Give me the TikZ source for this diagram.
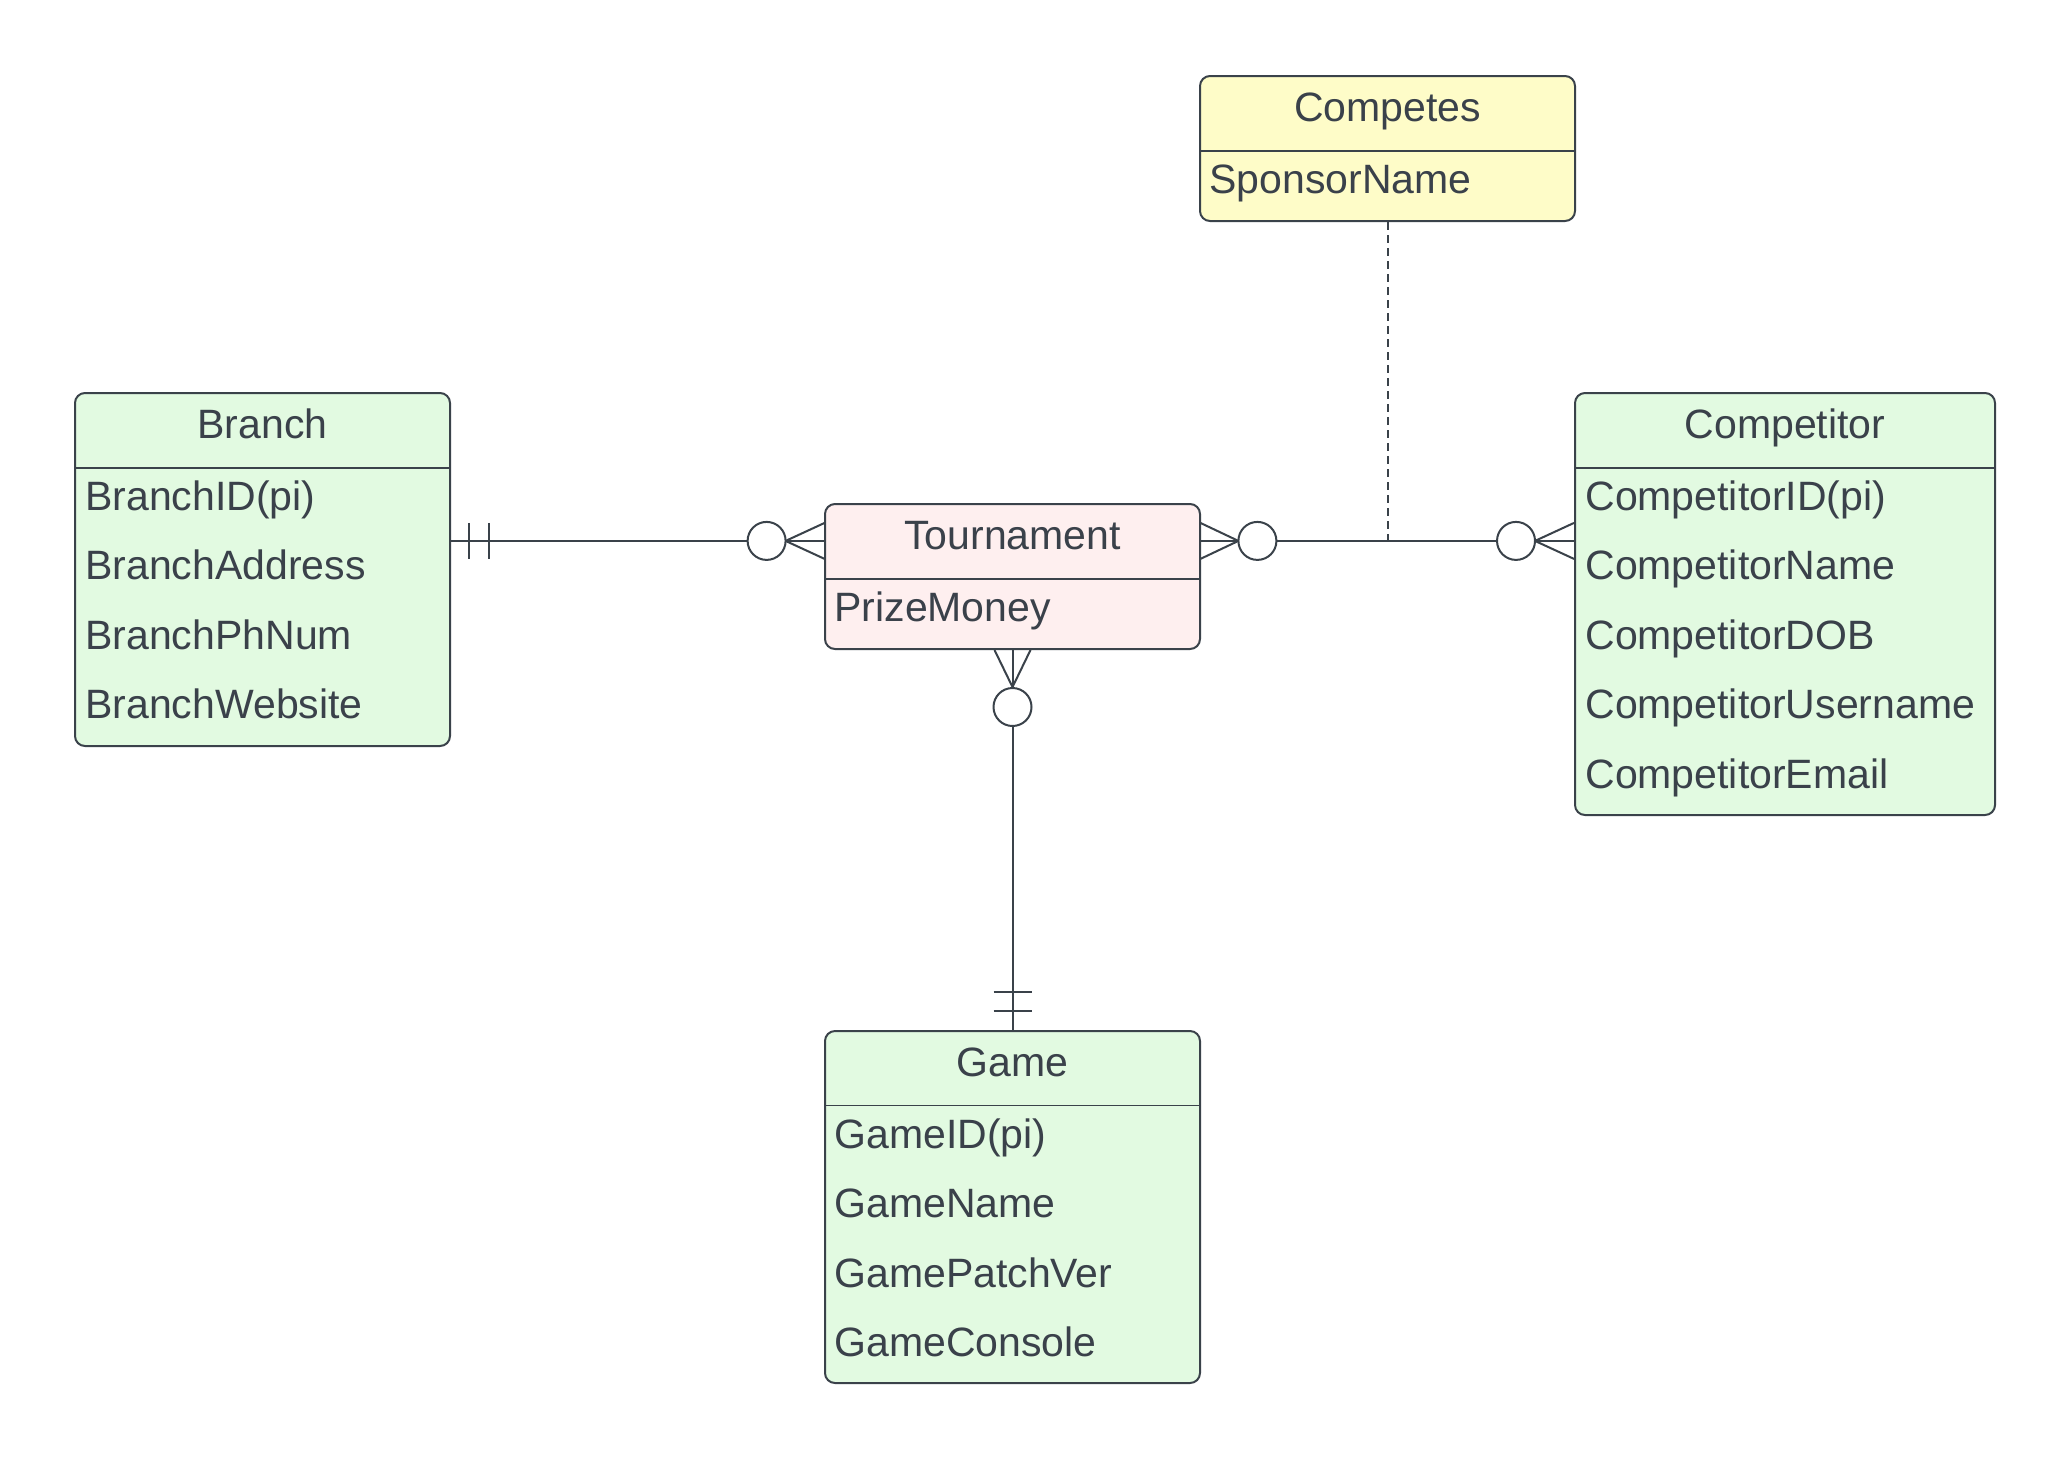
\documentclass[tikz,border=0pt]{standalone}
\usepackage{fontspec}
\setmainfont{Liberation Sans}
\usetikzlibrary{calc}
\definecolor{lncol}{HTML}{3A424A}
\definecolor{txtcol}{HTML}{3A414A}
\definecolor{entgreen}{HTML}{E2FAE1}
\definecolor{entpink}{HTML}{FEEFEF}
\definecolor{entyellow}{HTML}{FEFCC8}
\tikzset{
  ln/.style={draw=lncol, line width=1pt},
  ent/.style={draw=lncol, line width=1pt, rounded corners=5pt, inner sep=0pt, anchor=north west},
  hd/.style={inner sep=0pt, minimum height=37.5pt, anchor=north},
  ttl/.style={text=txtcol, inner sep=0pt, anchor=base, font=\fontsize{20.5pt}{24pt}\selectfont},
  attr/.style={text=txtcol, inner sep=0pt, anchor=base west, font=\fontsize{20.5pt}{24pt}\selectfont},
  circ/.style={circle, draw=lncol, line width=1pt, fill=white, minimum size=19pt, inner sep=0pt}
}
\begin{document}
\begin{tikzpicture}[x=0.5pt, y=-0.5pt]
\useasboundingbox (0,0) rectangle (2070,1457);

% ---------- Branch ----------
\node[ent, fill=entgreen, minimum width=187.5pt, minimum height=176.5pt] (branch) at (74,392) {};
\node[hd, minimum width=187.5pt] (branchH) at (branch.north) {};
\draw[ln] (branchH.south west) -- (branchH.south east);
\node[ttl] (branchT) at ($(branch.north)+(0,46)$) {Branch};
\node[attr] (b1) at ($(branch.north west)+(11,118)$) {BranchID(pi)};
\node[attr] (b2) at ($(branch.north west)+(11,187.6)$) {BranchAddress};
\node[attr] (b3) at ($(branch.north west)+(11,257.2)$) {BranchPhNum};
\node[attr] (b4) at ($(branch.north west)+(11,326.8)$) {BranchWebsite};

% ---------- Tournament ----------
\node[ent, fill=entpink, minimum width=187.5pt, minimum height=72.5pt] (tour) at (824,503) {};
\node[hd, minimum width=187.5pt] (tourH) at (tour.north) {};
\draw[ln] (tourH.south west) -- (tourH.south east);
\node[ttl] (tourT) at ($(tour.north)+(0,46)$) {Tournament};
\node[attr] (t1) at ($(tour.north west)+(10,118)$) {PrizeMoney};

% ---------- Competes ----------
\node[ent, fill=entyellow, minimum width=187.5pt, minimum height=72.5pt] (competes) at (1199,75) {};
\node[hd, minimum width=187.5pt] (competesH) at (competes.north) {};
\draw[ln] (competesH.south west) -- (competesH.south east);
\node[ttl] (competesT) at ($(competes.north)+(0,46)$) {Competes};
\node[attr] (s1) at ($(competes.north west)+(10,118)$) {SponsorName};

% ---------- Competitor ----------
\node[ent, fill=entgreen, minimum width=210pt, minimum height=211pt] (comp) at (1574,392) {};
\node[hd, minimum width=210pt] (compH) at (comp.north) {};
\draw[ln] (compH.south west) -- (compH.south east);
\node[ttl] (compT) at ($(comp.north)+(0,46)$) {Competitor};
\node[attr] (c1) at ($(comp.north west)+(11,118)$) {CompetitorID(pi)};
\node[attr] (c2) at ($(comp.north west)+(11,187.6)$) {CompetitorName};
\node[attr] (c3) at ($(comp.north west)+(11,257.2)$) {CompetitorDOB};
\node[attr] (c4) at ($(comp.north west)+(11,326.8)$) {CompetitorUsername};
\node[attr] (c5) at ($(comp.north west)+(11,396.4)$) {CompetitorEmail};

% ---------- Game ----------
\node[ent, fill=entgreen, minimum width=187.5pt, minimum height=176pt] (game) at (824,1030) {};
\node[hd, minimum width=187.5pt] (gameH) at (game.north) {};
\draw[draw=lncol, line width=0.5pt] (gameH.south west) -- (gameH.south east);
\node[ttl] (gameT) at ($(game.north)+(0,46)$) {Game};
\node[attr] (g1) at ($(game.north west)+(10,118)$) {GameID(pi)};
\node[attr] (g2) at ($(game.north west)+(10,187.6)$) {GameName};
\node[attr] (g3) at ($(game.north west)+(10,257.2)$) {GamePatchVer};
\node[attr] (g4) at ($(game.north west)+(10,326.8)$) {GameConsole};

% ---------- Branch -- Tournament ----------
\coordinate (tW) at (tourH.west);
\coordinate (bE) at (tourH.west -| branch.east);
\draw[ln] (bE) -- (tW);
\draw[ln] ($(bE)+(18,-18)$) -- ($(bE)+(18,18)$);
\draw[ln] ($(bE)+(38,-18)$) -- ($(bE)+(38,18)$);
\draw[ln] ($(tW)+(-39,0)$) -- ($(tW)+(0,-18)$);
\draw[ln] ($(tW)+(-39,0)$) -- ($(tW)+(0,18)$);
\node[circ] (o1) at ($(tW)+(-58,0)$) {};

% ---------- Tournament -- Competitor ----------
\coordinate (tE) at (tourH.east);
\coordinate (cW) at (tourH.east -| comp.west);
\draw[ln] (tE) -- (cW);
\draw[ln] ($(tE)+(38,0)$) -- ($(tE)+(0,-18)$);
\draw[ln] ($(tE)+(38,0)$) -- ($(tE)+(0,18)$);
\node[circ] (o2) at ($(tE)+(57,0)$) {};
\draw[ln] ($(cW)+(-39,0)$) -- ($(cW)+(0,-18)$);
\draw[ln] ($(cW)+(-39,0)$) -- ($(cW)+(0,18)$);
\node[circ] (o3) at ($(cW)+(-58,0)$) {};

% ---------- Competes (associative) ----------
\coordinate (mid) at ($(tE)!0.5!(cW)$);
\draw[draw=lncol, line width=1pt, dash pattern=on 4pt off 2.5pt] (competes.south) -- (competes.south |- mid);

% ---------- Tournament -- Game ----------
\draw[ln] (tour.south) -- (game.north);
\draw[ln] ($(tour.south)+(0,37)$) -- ($(tour.south)+(-18,0)$);
\draw[ln] ($(tour.south)+(0,37)$) -- ($(tour.south)+(18,0)$);
\node[circ] (o4) at ($(tour.south)+(0,57)$) {};
\draw[ln] ($(game.north)+(-19,-19)$) -- ($(game.north)+(19,-19)$);
\draw[ln] ($(game.north)+(-19,-38)$) -- ($(game.north)+(19,-38)$);
\end{tikzpicture}
\end{document}
